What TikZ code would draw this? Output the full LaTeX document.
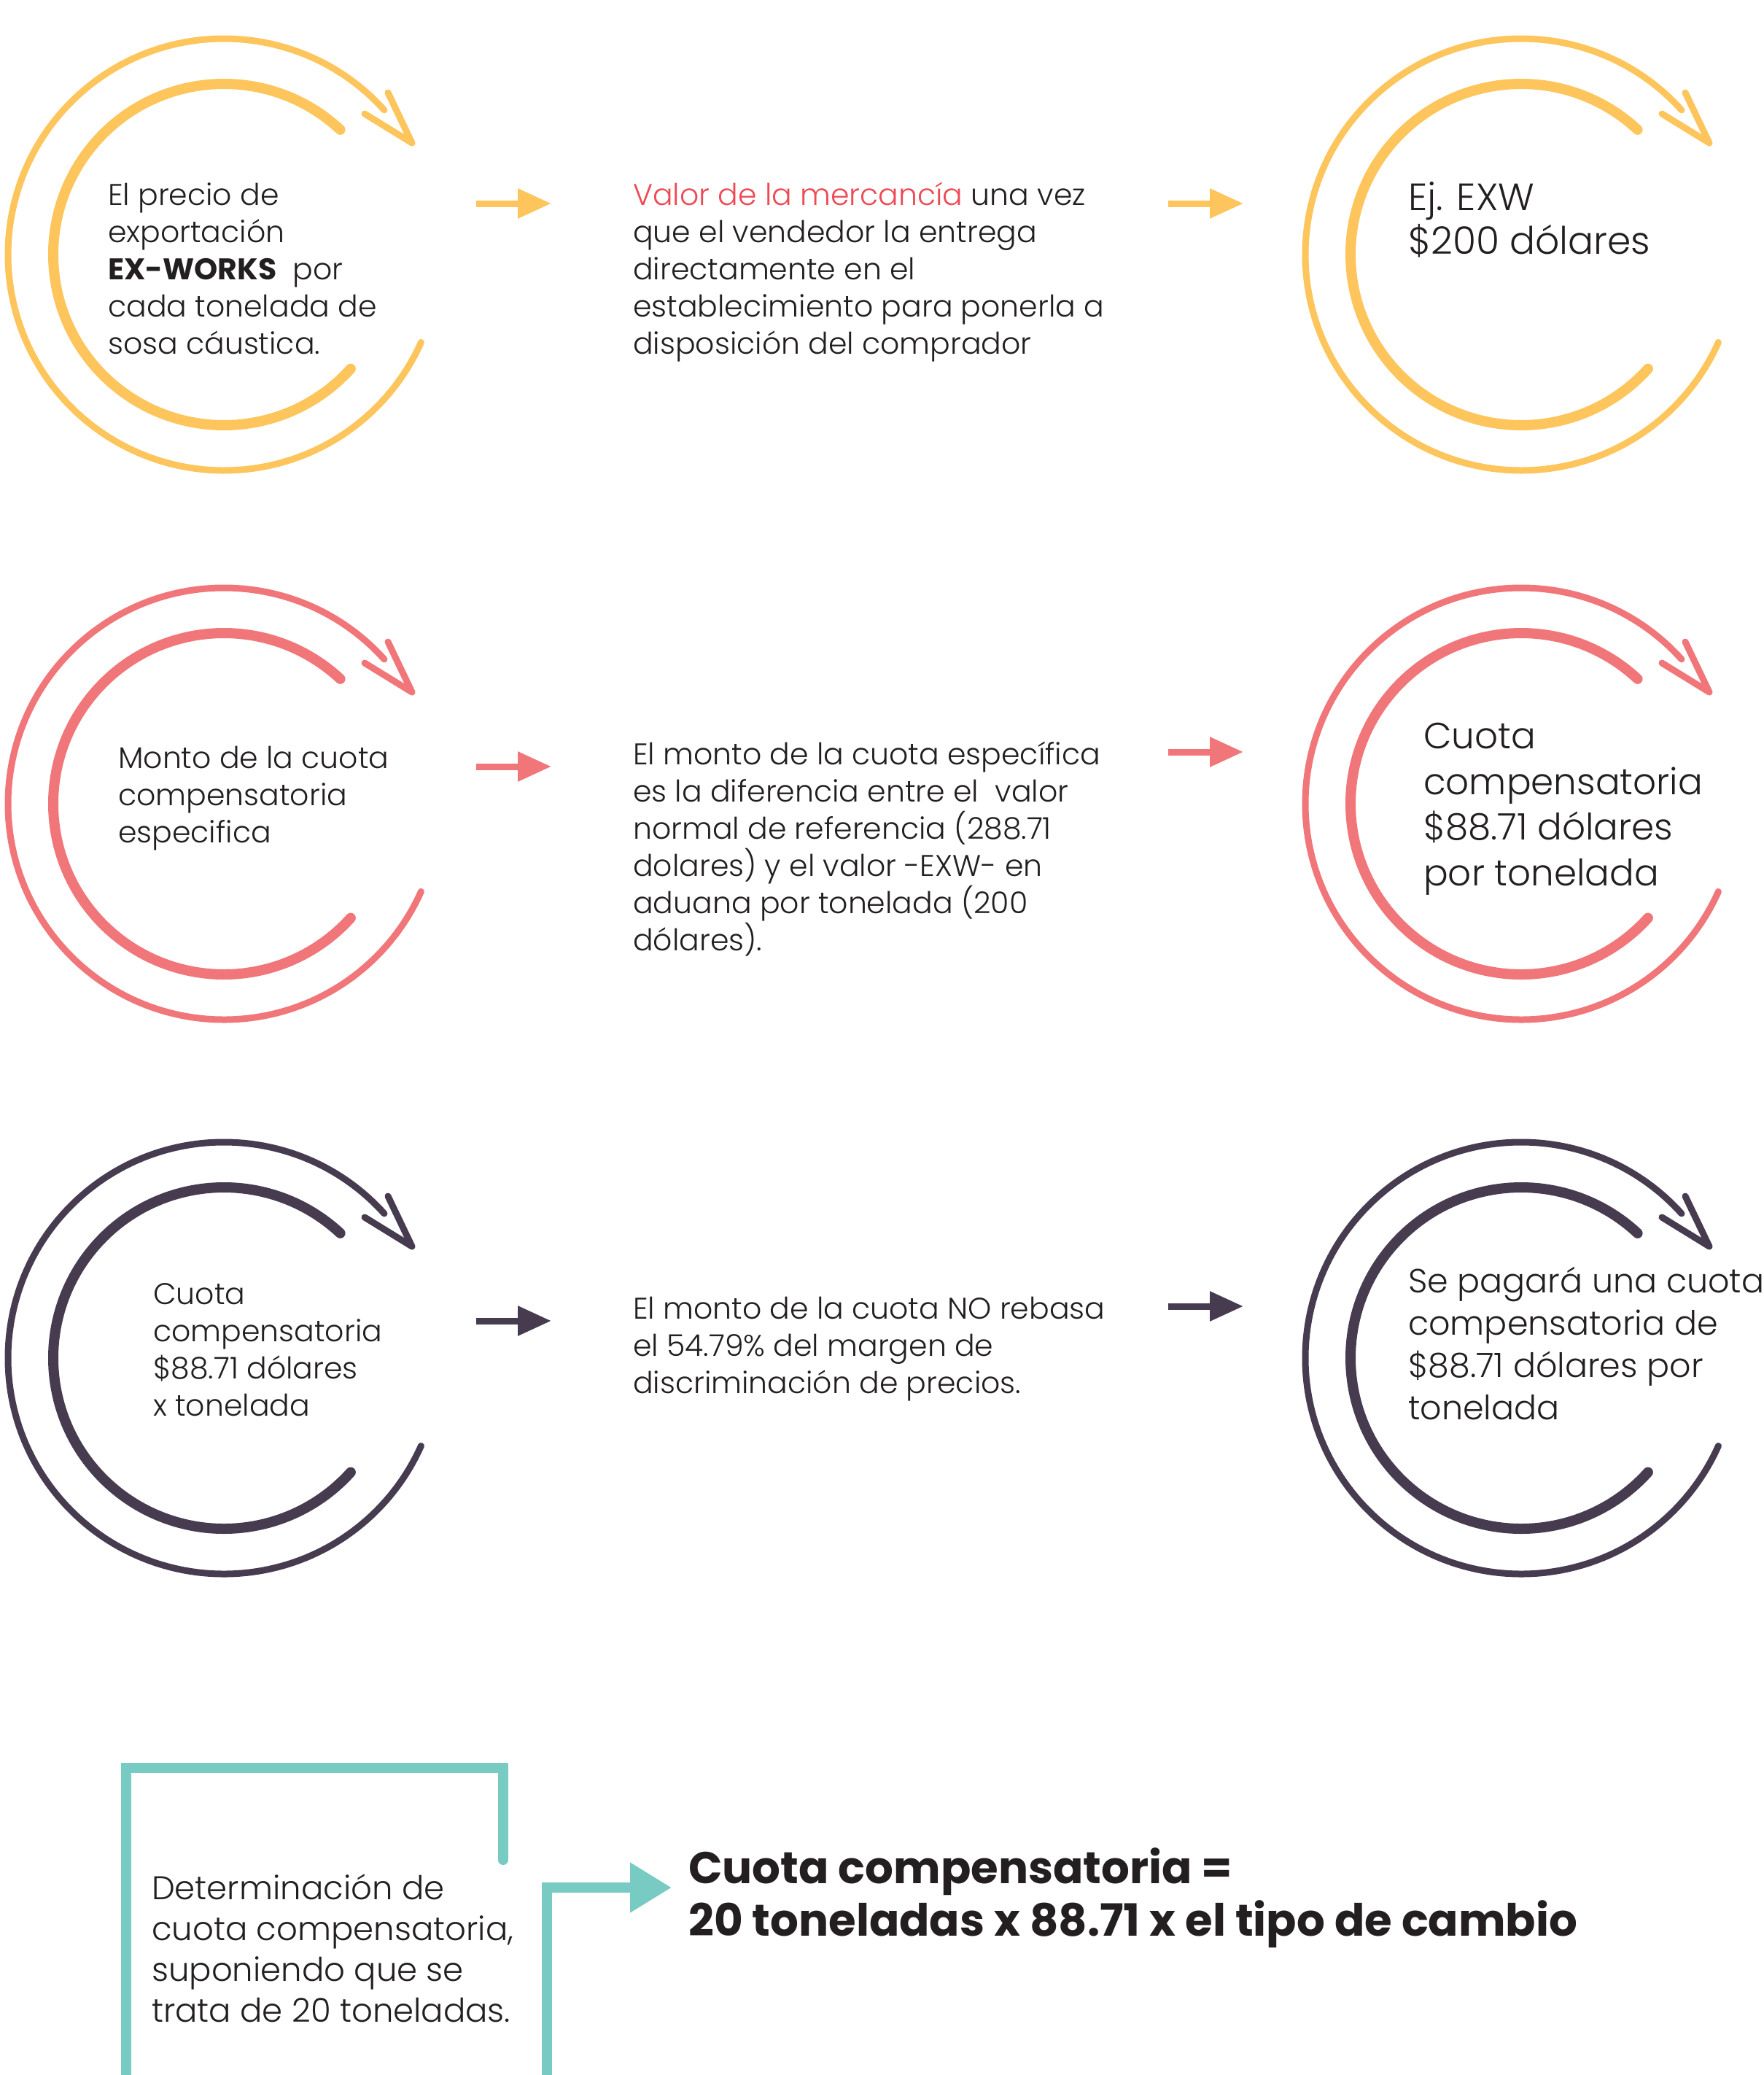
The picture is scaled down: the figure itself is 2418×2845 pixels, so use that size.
\documentclass[tikz,border=0pt]{standalone}
\usepackage{fontspec}
\setmainfont{Poppins}[UprightFont={* Light},BoldFont={* Bold}]
\usetikzlibrary{arrows.meta}
\definecolor{cyel}{HTML}{FDC55B}
\definecolor{csal}{HTML}{F0767A}
\definecolor{cdark}{HTML}{463B4F}
\definecolor{cteal}{HTML}{78CBC3}
\definecolor{ctext}{HTML}{231F20}
\definecolor{cred}{HTML}{EE4A55}
\newcommand\loopring[3]{%
  \coordinate (#1) at (#2);
  \begin{scope}[shift={(#1)}]
    \draw[outerarc,#3] (42:296) arc[start angle=42,end angle=336,radius=296];
    \draw[innerarc,#3] (47:234) arc[start angle=47,end angle=318,radius=234];
    \draw[outerarc,#3] (225,222) -- (258,153) -- (193,193);
  \end{scope}}
\begin{document}
\begin{tikzpicture}[x=1pt,y=1pt,
  outerarc/.style={line width=9pt,line cap=round,line join=round},
  innerarc/.style={line width=14pt,line cap=round},
  arr/.style={line width=9pt,-{Triangle[length=46pt,width=39pt]}},
  txt/.style={inner sep=0pt,align=left,anchor=base west,text=ctext,font=\fontsize{41}{51}\selectfont},
  bigtxt/.style={txt,font=\fontsize{52}{60}\selectfont},
  medtxt/.style={txt,font=\fontsize{45}{56}\selectfont},
  boldtxt/.style={txt,font=\bfseries\fontsize{61}{72}\selectfont},
  teal/.style={cteal,line width=14pt}]
\useasboundingbox (0,0) rectangle (2418,-2845);
\clip (0,0) rectangle (2418,-2845);
\fill[white] (0,0) rectangle (2418,-2845);

% rings
\loopring{r11}{307,-349}{cyel}
\loopring{r13}{2086,-349}{cyel}
\loopring{r21}{307,-1102}{csal}
\loopring{r23}{2086,-1102}{csal}
\loopring{r31}{307,-1862}{cdark}
\loopring{r33}{2086,-1862}{cdark}

% row 1 texts (anchored at the baseline of the last line)
\node[txt] (t11) at (148,-485) {El precio de\\exportación\\\textbf{EX-WORKS}\ \ por\\cada tonelada de\\sosa cáustica.};
\node[txt] (t12) at (868,-485) {{\color{cred}Valor de la mercancía} una vez\\que el vendedor la entrega\\directamente en el\\establecimiento para ponerla a\\disposición del comprador};
\node[bigtxt] (t13) at (1931,-348) {Ej. EXW\\\$200 dólares};

% row 2 texts
\node[txt] (t21) at (162,-1155) {Monto de la cuota\\compensatoria\\especifica};
\node[txt] (t22) at (868,-1303) {El monto de la cuota específica\\es la diferencia entre el\ \ valor\\normal de referencia (288.71\\dolares) y el valor -EXW- en\\aduana por tonelada (200\\dólares).};
\node[txt,font=\fontsize{50}{62.5}\selectfont] (t23) at (1952,-1214) {Cuota\\compensatoria\\\$88.71 dólares\\por tonelada};

% row 3 texts
\node[txt] (t31) at (210,-1941) {Cuota\\compensatoria\\\$88.71 dólares\\x tonelada};
\node[txt] (t32) at (868,-1910) {El monto de la cuota NO rebasa\\el 54.79\% del margen de\\discriminación de precios.};
\node[txt,font=\fontsize{46}{58}\selectfont] (t33) at (1931,-1946) {Se pagará una cuota\\compensatoria de\\\$88.71 dólares por\\tonelada};

% arrows
\coordinate (a11s) at (653,-279);  \coordinate (a11e) at (756,-279);
\coordinate (a12s) at (1602,-279); \coordinate (a12e) at (1705,-279);
\coordinate (a21s) at (653,-1051); \coordinate (a21e) at (756,-1051);
\coordinate (a22s) at (1602,-1031);\coordinate (a22e) at (1705,-1031);
\coordinate (a31s) at (653,-1811); \coordinate (a31e) at (756,-1811);
\coordinate (a32s) at (1602,-1791);\coordinate (a32e) at (1705,-1791);
\draw[arr,cyel] (a11s) -- (a11e);
\draw[arr,cyel] (a12s) -- (a12e);
\draw[arr,csal] (a21s) -- (a21e);
\draw[arr,csal] (a22s) -- (a22e);
\draw[arr,cdark] (a31s) -- (a31e);
\draw[arr,cdark] (a32s) -- (a32e);

% bottom
\coordinate (b1) at (690,-2550);
\coordinate (b2) at (690,-2424);
\coordinate (b3) at (173,-2424);
\coordinate (b4) at (173,-2900);
\draw[teal,line cap=round,line join=miter] (b1) -- (b2) -- (b3) -- (b4);
\coordinate (c1) at (750,-2900);
\coordinate (c2) at (750,-2588);
\coordinate (c3) at (921,-2588);
\draw[teal,line join=miter,-{Triangle[length=57pt,width=65pt]}] (c1) -- (c2) -- (c3);
\node[medtxt] (tb1) at (208,-2772) {Determinación de\\cuota compensatoria,\\suponiendo que se\\trata de 20 toneladas.};
\node[boldtxt] (tb2) at (944,-2654) {Cuota compensatoria =\\20 toneladas x 88.71 x el tipo de cambio};
\end{tikzpicture}
\end{document}
